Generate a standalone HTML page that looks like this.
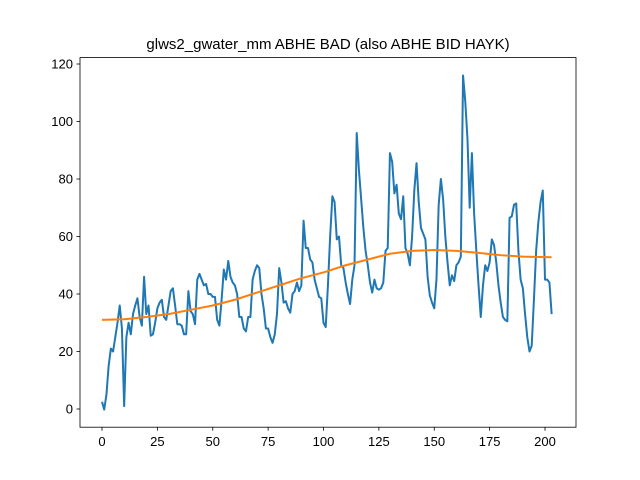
<!DOCTYPE html>
<html><head><meta charset="utf-8"><style>
body{margin:0;background:#fff}
svg{font-family:"Liberation Sans","DejaVu Sans",sans-serif;display:block}
</style></head><body>
<svg id="chart" width="640" height="480">
<rect width="640" height="480" fill="#fff"/>
<text x="328" y="49" text-anchor="middle" font-size="15">glws2_gwater_mm ABHE BAD (also ABHE BID HAYK)</text>
<g id="ticks"></g>
<g id="series"></g>
<rect x="80" y="57.6" width="496" height="369.6" fill="none" stroke="#000" stroke-width="0.8"/>
</svg>
<script>
const values=[2.5,-0.2,5,15,21,20,25,30,36,28,1,25,30,26,33,36,38.5,32,29,46,33,36,25.5,26,30,35,37,38,32,31,36,41,42,36,29.5,29.5,29,26,26,41,34,33,29.5,45,47,45,43,43.5,40,40,39,39,31,29,38,48.5,45,51.5,46,44,43,40,32,32,28,27,32,32,45,48,50,49,40,35,28,28,25,23,26,33,49,44,37,37.5,35,33.5,40,41,44,41,43,65.5,56,56,52,51,45,42,39,38.5,30,28.5,43,60,74,72,59,60,50,49,44,40,36.5,45,50,96,83,73,63,55,50,44,40.5,45,42,41.5,42,44,55,56,89,86,75,78,68,66,74,56,54,50,60,76,85.5,72,63,61,59,46,39.5,37,35,45,71,80,73,60,51,43,46.5,44.5,50,51,53,116,107,94,70,89,68,55,43,32,43,50,48,51,59,57,51,43,37,32,31,30.5,66.5,67,71,71.5,55,45,42,33,25,20,22,38,55,65,72,76,45,45,44,33];
const trendX=[0,10,20,30,40,50,60,70,80,90,100,110,120,130,140,150,160,170,180,190,203];
const trendY=[31,31.2,32,33,34.5,36,38,40.5,43,45.5,47.5,50,52,54,55,55.3,55,54.3,53.5,53,52.8];
const xTicks=[0,25,50,75,100,125,150,175,200];
const yTicks=[0,20,40,60,80,100,120];
const X=v=>102+v*2.215;
const Y=v=>409-v*2.875;
const NS="http://www.w3.org/2000/svg";
const tg=document.getElementById('ticks'), sg=document.getElementById('series');
function mk(tag,attrs,parent){const e=document.createElementNS(NS,tag);for(const k in attrs)e.setAttribute(k,attrs[k]);parent.appendChild(e);return e;}
xTicks.forEach(t=>{
  const l=mk('line',{x1:X(t),x2:X(t),y1:427.2,y2:430.7,stroke:'#000','stroke-width':0.8},tg);
  
  
  const s=mk('text',{x:X(t),y:446,'text-anchor':'middle','font-size':13},tg);s.textContent=t;
  
  
});
yTicks.forEach(t=>{
  const l=mk('line',{x1:76.5,x2:80,y1:Y(t),y2:Y(t),stroke:'#000','stroke-width':0.8},tg);
  
  
  const s=mk('text',{x:73,y:Y(t)+4.5,'text-anchor':'end','font-size':13},tg);s.textContent=t;
  
  
});
const p1=mk('polyline',{points:values.map((v,i)=>X(i)+','+Y(v)).join(' '),fill:'none',stroke:'#1f77b4','stroke-width':2,'stroke-linejoin':'round'},sg);


const p2=mk('polyline',{points:trendX.map((x,i)=>X(x)+','+Y(trendY[i])).join(' '),fill:'none',stroke:'#ff7f0e','stroke-width':2,'stroke-linejoin':'round'},sg);


</script>
</body></html>
